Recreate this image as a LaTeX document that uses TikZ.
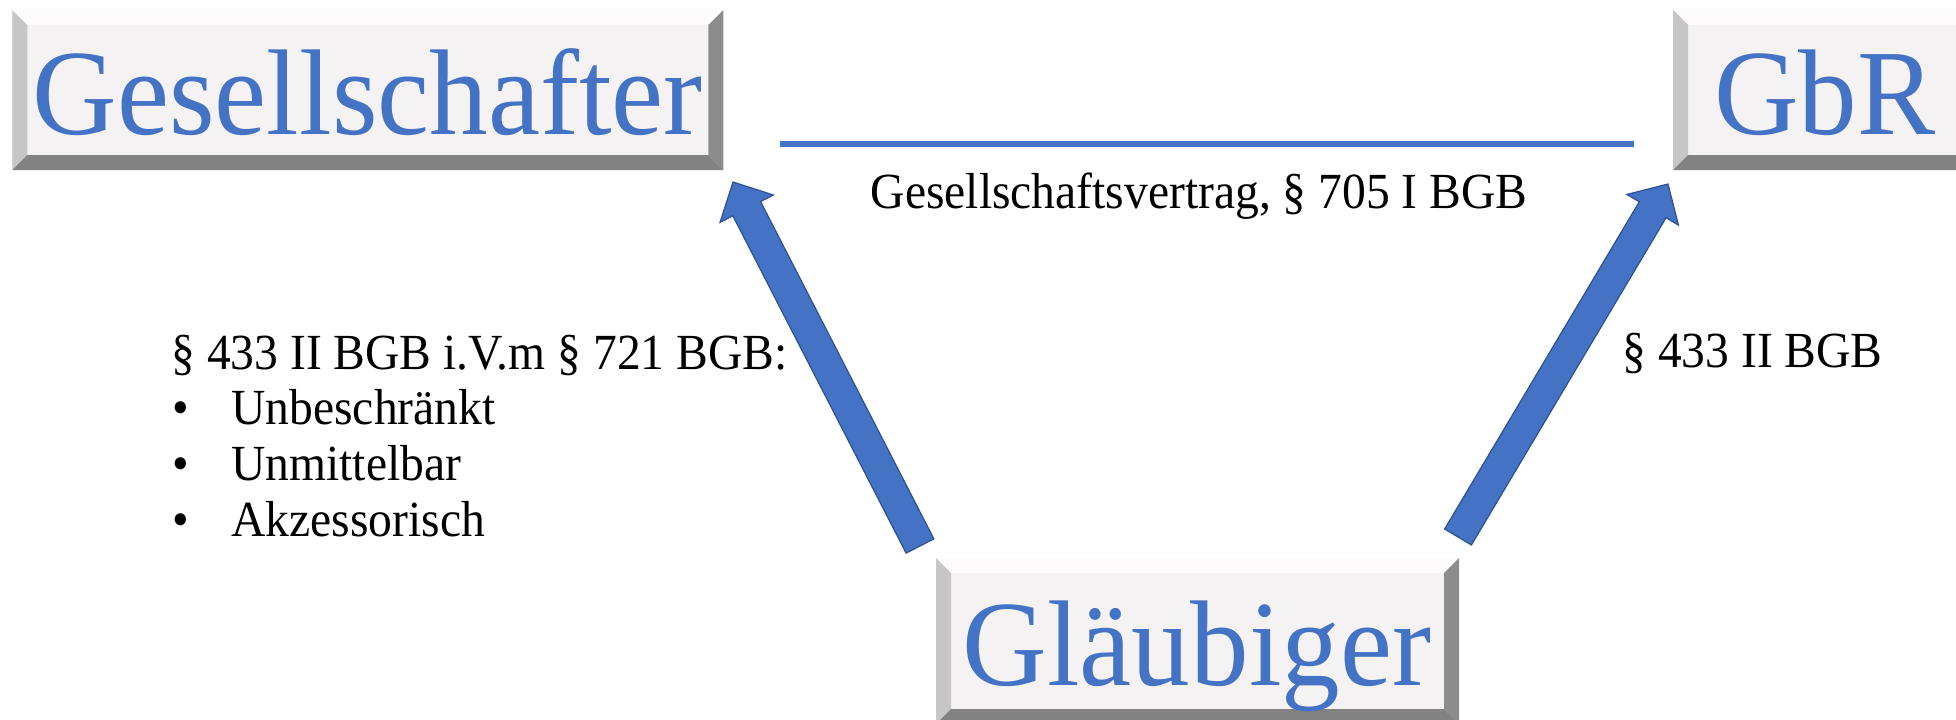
\documentclass[tikz,border=0pt]{standalone}
\usepackage{fontspec}
\setmainfont{Liberation Serif}
\newfontfamily\bigfam[FakeStretch=0.96]{Liberation Serif}
\newfontfamily\smallfam[FakeStretch=0.94]{Liberation Serif}
\usetikzlibrary{calc}
\definecolor{bblue}{HTML}{4472C4}
\definecolor{bborder}{HTML}{2F528F}
\definecolor{bvface}{HTML}{F4F2F3}
\definecolor{bvtop}{HTML}{FDFBFC}
\definecolor{bvleft}{HTML}{C6C6C6}
\definecolor{bvright}{HTML}{8C8C8C}
\definecolor{bvbottom}{HTML}{828282}
\newcommand{\bigfont}{\bigfam\fontsize{61pt}{63pt}\selectfont}
\newcommand{\smallfont}{\smallfam\fontsize{25.3pt}{30pt}\selectfont}
\tikzset{
  bevelbox/.style={rectangle, inner sep=0pt, outer sep=0pt, fill=bvface,
    path picture={
      \fill[bvtop] (path picture bounding box.north west) -- (path picture bounding box.north east)
        -- ([shift={(-7.5pt,-7.5pt)}]path picture bounding box.north east)
        -- ([shift={(7.5pt,-7.5pt)}]path picture bounding box.north west) -- cycle;
      \fill[bvleft] (path picture bounding box.north west) -- (path picture bounding box.south west)
        -- ([shift={(7.5pt,7.5pt)}]path picture bounding box.south west)
        -- ([shift={(7.5pt,-7.5pt)}]path picture bounding box.north west) -- cycle;
      \fill[bvright] (path picture bounding box.north east) -- (path picture bounding box.south east)
        -- ([shift={(-7.5pt,7.5pt)}]path picture bounding box.south east)
        -- ([shift={(-7.5pt,-7.5pt)}]path picture bounding box.north east) -- cycle;
      \fill[bvbottom] (path picture bounding box.south west) -- (path picture bounding box.south east)
        -- ([shift={(-7.5pt,7.5pt)}]path picture bounding box.south east)
        -- ([shift={(7.5pt,7.5pt)}]path picture bounding box.south west) -- cycle;
    }},
  bigtext/.style={font=\bigfont, text=bblue, inner sep=0pt, anchor=base},
  smalltext/.style={font=\smallfont, text=black, inner sep=0pt, anchor=base west},
  fatarrow/.style={fill=bblue, draw=bborder, line width=0.6pt, line join=miter},
  linkline/.style={draw=bblue, line width=2.8pt}
}
\begin{document}
\begin{tikzpicture}[x=0.5pt,y=-0.5pt]
\useasboundingbox (0,0) rectangle (1956,719);
\begin{scope}
\clip (0,0) rectangle (1956,719);
% boxes
\node[bevelbox, minimum width=355.5pt, minimum height=80pt] (gesbox) at (367.75,90) {};
\node[bevelbox, minimum width=150pt, minimum height=80pt] (gbrbox) at (1823,90) {};
\node[bevelbox, minimum width=261.5pt, minimum height=83pt] (glbox) at (1197.5,641) {};
\end{scope}
\node[bigtext] (gestext) at (367.75,134) {Gesellschafter};
\node[bigtext, anchor=base west] (gbrtext) at (1714,134) {GbR};
\node[bigtext] (gltext) at (1197,685) {Gläubiger};

% line between Gesellschafter and GbR
\coordinate (lineA) at (780,144);
\coordinate (lineB) at (1634,144);
\draw[linkline] (lineA) -- (lineB);
\node[font=\smallfont, inner sep=0pt, anchor=base] (vertrag) at (1199,208) {Gesellschaftsvertrag, § 705 I BGB};

% left arrow
\coordinate (lt) at (920,546);
\coordinate (lh) at (733,182);
\coordinate (lb) at ($(lh)!15pt!(lt)$);
\draw[fatarrow] ($(lt)!7.8pt!90:(lh)$) -- ($(lb)!7.8pt!90:(lh)$) -- ($(lb)!15pt!90:(lh)$) -- (lh)
  -- ($(lb)!15pt!-90:(lh)$) -- ($(lb)!7.8pt!-90:(lh)$) -- ($(lt)!7.8pt!-90:(lh)$) -- cycle;

% right arrow
\coordinate (rt) at (1458,537);
\coordinate (rh) at (1668,184);
\coordinate (rb) at ($(rh)!15pt!(rt)$);
\draw[fatarrow] ($(rt)!7.8pt!90:(rh)$) -- ($(rb)!7.8pt!90:(rh)$) -- ($(rb)!15pt!90:(rh)$) -- (rh)
  -- ($(rb)!15pt!-90:(rh)$) -- ($(rb)!7.8pt!-90:(rh)$) -- ($(rt)!7.8pt!-90:(rh)$) -- cycle;

% left text
\node[smalltext] (l0) at (171,369) {§ 433 II BGB i.V.m § 721 BGB:};
\node[smalltext] (b1) at (172,424) {•};
\node[smalltext] (t1) at (231,424) {Unbeschränkt};
\node[smalltext] (b2) at (172,480) {•};
\node[smalltext] (t2) at (231,480) {Unmittelbar};
\node[smalltext] (b3) at (172,536) {•};
\node[smalltext] (t3) at (231,536) {Akzessorisch};

% right text
\node[smalltext] (r0) at (1622,367) {§ 433 II BGB};
\end{tikzpicture}
\end{document}
